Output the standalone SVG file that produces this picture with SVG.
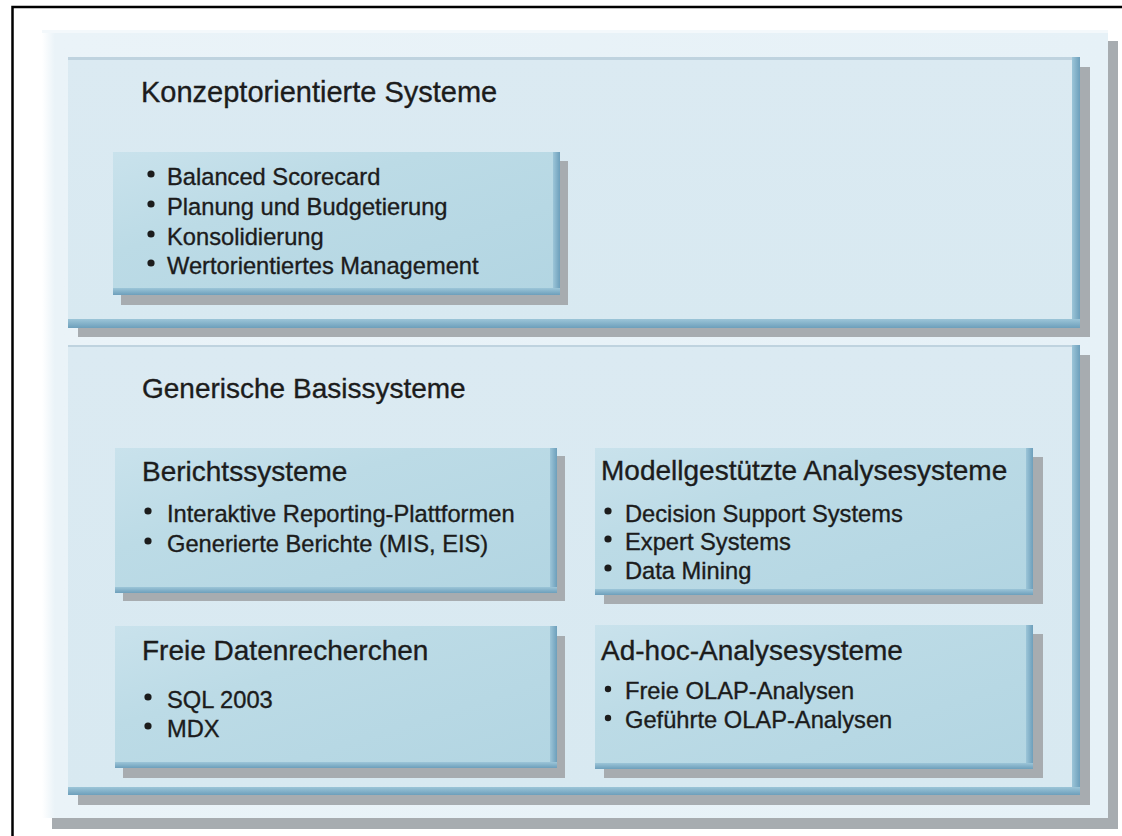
<svg xmlns="http://www.w3.org/2000/svg" width="1122" height="836" viewBox="0 0 1122 836">
<defs>
<linearGradient id="gOuter" x1="0" y1="0" x2="1" y2="0">
<stop offset="0" stop-color="#ffffff"/>
<stop offset="0.012" stop-color="#eaf3f8"/>
<stop offset="1" stop-color="#e6f1f7"/>
</linearGradient>
<linearGradient id="gPanel" x1="0" y1="0" x2="0" y2="1">
<stop offset="0" stop-color="#dbeaf2"/>
<stop offset="1" stop-color="#d8e9f1"/>
</linearGradient>
<linearGradient id="gBox" x1="0" y1="0" x2="1" y2="1">
<stop offset="0" stop-color="#c9e2ec"/>
<stop offset="0.35" stop-color="#bcdbe6"/>
<stop offset="1" stop-color="#b2d5e2"/>
</linearGradient>
<linearGradient id="gBevR" x1="0" y1="0" x2="1" y2="0">
<stop offset="0" stop-color="#9cc5d8"/>
<stop offset="1" stop-color="#6d9fbb"/>
</linearGradient>
<linearGradient id="gBevB" x1="0" y1="0" x2="0" y2="1">
<stop offset="0" stop-color="#9cc5d8"/>
<stop offset="1" stop-color="#6d9fbb"/>
</linearGradient>
</defs>
<style>
.shadow{fill:#a7acb0}
.outer{fill:url(#gOuter)}
.panel{fill:url(#gPanel)}
.ptop{fill:#bfd3df}
.box{fill:url(#gBox)}
.bevr{fill:url(#gBevR)}
.bevb{fill:url(#gBevB)}
.t{font-family:"Liberation Sans",Arial,sans-serif;fill:#1c1c1c;stroke:#1c1c1c;stroke-width:0.35}
.h{font-size:28px}
.k{font-size:29px}
.i{font-size:23.7px}
.b{fill:#1c1c1c}
</style>
<rect x="0" y="0" width="1122" height="836" fill="#ffffff"/>
<path d="M12.5,836 V7 H1122" fill="none" stroke="#000000" stroke-width="2.5"/>

<g id="outer-panel">
<rect class="shadow" x="52" y="41" width="1066" height="788"/>
<rect class="outer" x="42" y="30" width="1066" height="788"/>
<rect x="42" y="30" width="1066" height="3" fill="#f3f8fb"/>
</g>

<g id="konzept-panel">
<rect class="shadow" x="78" y="67" width="1012" height="270"/>
<rect class="panel" x="68" y="57" width="1012" height="271"/>
<rect class="ptop" x="68" y="57" width="1012" height="3"/>
<rect class="bevr" x="1072" y="57" width="8" height="271"/>
<rect class="bevb" x="68" y="319" width="1012" height="9"/>
<text class="t k" x="141" y="102">Konzeptorientierte Systeme</text>
</g>

<g id="konzept-box">
<rect class="shadow" x="121" y="161" width="447" height="144"/>
<rect class="box" x="113" y="152" width="447" height="143"/>
<rect class="bevr" x="553" y="152" width="7" height="143"/>
<rect class="bevb" x="113" y="288" width="447" height="7"/>
<circle class="b" cx="151" cy="174" r="3.6"/>
<circle class="b" cx="151" cy="204" r="3.6"/>
<circle class="b" cx="151" cy="234" r="3.6"/>
<circle class="b" cx="151" cy="263" r="3.6"/>
<text class="t i" x="167" y="185">Balanced Scorecard</text>
<text class="t i" x="167" y="215">Planung und Budgetierung</text>
<text class="t i" x="167" y="245">Konsolidierung</text>
<text class="t i" x="167" y="274">Wertorientiertes Management</text>
</g>

<g id="generische-panel">
<rect class="shadow" x="78" y="355" width="1012" height="450"/>
<rect class="panel" x="68" y="345" width="1012" height="450"/>
<rect class="ptop" x="68" y="345" width="1012" height="2"/>
<rect class="bevr" x="1072" y="345" width="8" height="450"/>
<rect class="bevb" x="68" y="787" width="1012" height="8"/>
<text class="t h" x="142" y="398">Generische Basissysteme</text>
</g>

<g id="berichtssysteme">
<rect class="shadow" x="123" y="456" width="442" height="145"/>
<rect class="box" x="115" y="448" width="442" height="145"/>
<rect class="bevr" x="550" y="448" width="7" height="145"/>
<rect class="bevb" x="115" y="587" width="442" height="6"/>
<text class="t h" x="142" y="481">Berichtssysteme</text>
<circle class="b" cx="148" cy="511" r="3.6"/>
<circle class="b" cx="148" cy="541" r="3.6"/>
<text class="t i" x="167" y="522">Interaktive Reporting-Plattformen</text>
<text class="t i" x="167" y="552">Generierte Berichte (MIS, EIS)</text>
</g>

<g id="modellgestuetzte">
<rect class="shadow" x="604" y="457" width="439" height="147"/>
<rect class="box" x="595" y="448" width="438" height="147"/>
<rect class="bevr" x="1026" y="448" width="7" height="147"/>
<rect class="bevb" x="595" y="589" width="438" height="6"/>
<text class="t h" x="601" y="480">Modellgestützte Analysesysteme</text>
<circle class="b" cx="608" cy="511" r="3.6"/>
<circle class="b" cx="608" cy="539" r="3.6"/>
<circle class="b" cx="608" cy="568" r="3.6"/>
<text class="t i" x="625" y="522">Decision Support Systems</text>
<text class="t i" x="625" y="550">Expert Systems</text>
<text class="t i" x="625" y="579">Data Mining</text>
</g>

<g id="freie-datenrecherchen">
<rect class="shadow" x="123" y="636" width="442" height="142"/>
<rect class="box" x="115" y="626" width="442" height="142"/>
<rect class="bevr" x="550" y="626" width="7" height="142"/>
<rect class="bevb" x="115" y="762" width="442" height="6"/>
<text class="t h" x="142" y="660">Freie Datenrecherchen</text>
<circle class="b" cx="148" cy="697" r="3.6"/>
<circle class="b" cx="148" cy="726" r="3.6"/>
<text class="t i" x="167" y="708">SQL 2003</text>
<text class="t i" x="167" y="737">MDX</text>
</g>

<g id="adhoc-analysesysteme">
<rect class="shadow" x="604" y="634" width="439" height="144"/>
<rect class="box" x="595" y="625" width="438" height="144"/>
<rect class="bevr" x="1026" y="625" width="7" height="144"/>
<rect class="bevb" x="595" y="763" width="438" height="6"/>
<text class="t h" x="601" y="660">Ad-hoc-Analysesysteme</text>
<circle class="b" cx="608" cy="689" r="3.2"/>
<circle class="b" cx="608" cy="718" r="3.2"/>
<text class="t i" x="625" y="699">Freie OLAP-Analysen</text>
<text class="t i" x="625" y="728">Geführte OLAP-Analysen</text>
</g>
</svg>
